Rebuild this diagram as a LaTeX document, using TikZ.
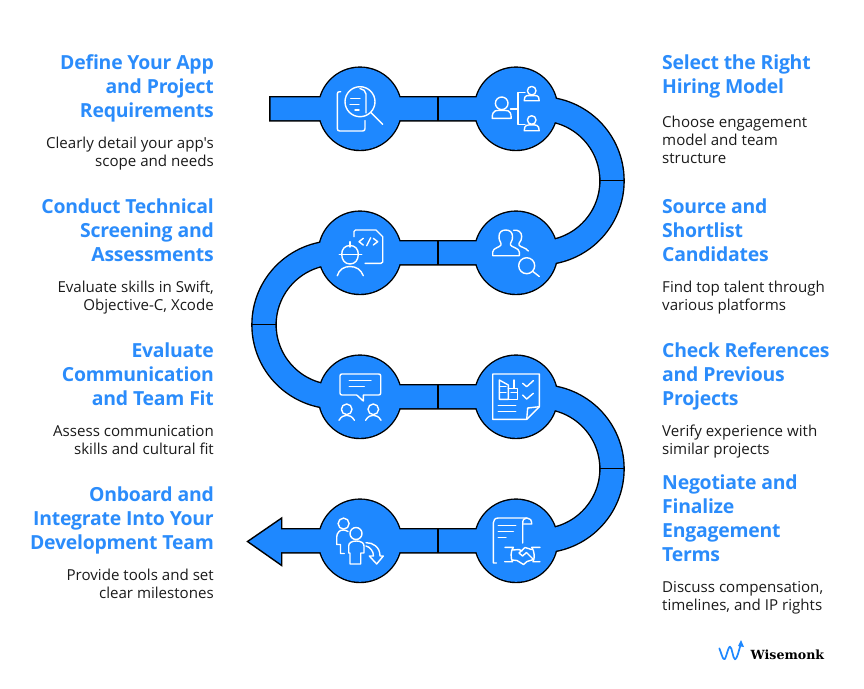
\documentclass[tikz,border=0pt]{standalone}
\usepackage{fontspec}
\setmainfont{Open Sans}
\newfontfamily\logofont{DejaVu Serif}
\newfontfamily\ttlfont[LetterSpace=-1.2]{Open Sans}
\newfontfamily\bdyfont{Open Sans}
\definecolor{wmblue}{HTML}{1E88FF}
\definecolor{wmtitle}{HTML}{2B8CFB}
\definecolor{wmtext}{HTML}{1A1A1A}
\newcommand{\RibbonPath}[2]{(#1,108.8) -- (540,108.8) arc[start angle=-90,end angle=90,radius=72] -- (336,252.8) arc[start angle=-90,end angle=-270,radius=72] -- (540,396.8) arc[start angle=-90,end angle=90,radius=72] -- (#2,540.8)}
\newcommand{\BlockL}[5]{%
 \node[ttl,anchor=north east,align=right] (#1t) at (214,#2-16) {\rule{0pt}{16pt}#3};
 \node[bdy,anchor=north east,align=right] (#1b) at (214,#4-12) {\rule{0pt}{12pt}#5};}
\newcommand{\BlockR}[5]{%
 \node[ttl,anchor=north west,align=left] (#1t) at (662,#2-16) {\rule{0pt}{16pt}#3};
 \node[bdy,anchor=north west,align=left] (#1b) at (662,#4-12) {\rule{0pt}{12pt}#5};}
\newcommand{\Bust}[5]{% cx, head cy, head r, base y, half width
 \draw[ico] (#1,#2) circle[radius=#3];
 \draw[ico] (#1-#5,#4) -- (#1+#5,#4) .. controls (#1+#5,#4-#3*1.5) and (#1+#5*.5,#2+#3*1.15) .. (#1,#2+#3*1.15) .. controls (#1-#5*.5,#2+#3*1.15) and (#1-#5,#4-#3*1.5) .. cycle;}
\newcommand{\Shoulder}[3]{% cx, head cy, bottom y
 \draw[ico] (#1,#2) circle[radius=5.3];
 \draw[ico] (#1-7.7,#3) .. controls (#1-5.5,#3-4) and (#1-2.5,#3-5) .. (#1,#3-5) .. controls (#1+2.5,#3-5) and (#1+5.5,#3-4) .. (#1+7.7,#3);}
\tikzset{
 ttl/.style={inner sep=0pt,text=wmtitle,font=\ttlfont\fontsize{19.4}{24}\selectfont\bfseries},
 bdy/.style={inner sep=0pt,text=wmtext,font=\bdyfont\fontsize{15.1}{18}\selectfont},
 ico/.style={draw=white,line width=1.4pt,line cap=round,line join=round},
 blackdisc/.style={circle,fill=black,minimum size=84.8pt,inner sep=0pt},
 bluedisc/.style={circle,fill=wmblue,minimum size=82pt,inner sep=0pt},
 seam/.style={draw=black,line width=1.3pt},
}
\begin{document}
\begin{tikzpicture}[x=1pt,y=-1pt]
\useasboundingbox (0,0) rectangle (864,688);
% black underlay
\draw[black,line width=25.6pt] \RibbonPath{269.2}{281.7};
\foreach \n/\x/\y in {a/360/108.8,b/516/108.8,c/360/252.8,d/516/252.8,e/360/396.8,f/516/396.8,g/360/540.8,h/516/540.8}
  \node[blackdisc] (k\n) at (\x,\y) {};
\draw[black,fill=wmblue,line width=1.4pt,line join=miter] (247.5,541.5) -- (281.7,518) -- (281.7,565.5) -- cycle;
% blue body
\draw[wmblue,line width=22.8pt] \RibbonPath{270.6}{279};
\foreach \n/\x/\y in {a/360/108.8,b/516/108.8,c/360/252.8,d/516/252.8,e/360/396.8,f/516/396.8,g/360/540.8,h/516/540.8}
  \node[bluedisc] (c\n) at (\x,\y) {};
% seams
\foreach \y in {108.8,252.8,396.8,540.8}
  \draw[seam] (438,\y-12) -- (438,\y+12);
\draw[seam] (600,180.8) -- (624,180.8);
\draw[seam] (252,324.8) -- (276,324.8);
\draw[seam] (600,468.8) -- (624,468.8);

% icon 1
\draw[ico] (340.7,91.7) -- (339.5,91.7) .. controls (338,91.7) and (337.3,92.5) .. (337.3,94) -- (337.3,128.5) .. controls (337.3,130.3) and (338,131) .. (339.8,131) -- (362.5,131) .. controls (364.3,131) and (365,130.3) .. (365,128.5) -- (365,120.5);
\draw[ico] (360,101.7) circle[radius=15];
\draw[ico] (371,112.7) -- (382.7,124.3);
\draw[ico] (360,88.5) .. controls (363,89) and (366,91) .. (366,94) -- (366,113);
\draw[ico] (350.7,98.3) -- (360,98.3) (350,104.3) -- (359,104.3) (355,110) -- (359,110);
% icon 2
\Bust{501.7}{103.3}{6.3}{118.3}{9.5}
\Bust{531.7}{90.7}{4.3}{100.7}{7.5}
\Bust{531.7}{120}{4.3}{130.7}{7.5}
\draw[ico] (510.5,109) -- (518,109) (525,92.7) -- (518,92.7) -- (518,124.3) -- (525,124.3);
% icon 3
\draw[ico] (354,236.7) -- (354,231.5) .. controls (354,230.5) and (354.5,230) .. (355.5,230) -- (376,230) -- (382.7,236.7) -- (382.7,262) .. controls (382.7,263) and (382,263.3) .. (381,263.3) -- (365,263.3);
\draw[ico] (363.3,238.3) -- (359,241.7) -- (363.3,245) (370.7,237.7) -- (366.7,245.7) (373.3,238.3) -- (377.7,241.7) -- (373.3,245);
\draw[ico] (339.3,254.3) -- (361.7,254.3);
\draw[ico] (350,241.7) -- (350,247);
\draw[ico] (341.7,254.3) .. controls (341.7,249) and (345,245.5) .. (350,245.5) .. controls (355,245.5) and (358.3,249) .. (358.3,254.3) .. controls (358.3,260) and (355,264) .. (350,264) .. controls (345,264) and (341.7,260) .. (341.7,254.3);
\draw[ico] (337.3,275.7) .. controls (339,269.5) and (344,266.5) .. (350,266.5) .. controls (356,266.5) and (361,269.5) .. (363.3,275.7);
% icon 4
\draw[ico] (492.7,255.7) -- (519.3,255.7) -- (519.3,252) .. controls (519.3,248) and (511,247) .. (510.5,245) -- (510.5,243.5) .. controls (512.5,241) and (512.5,237.5) .. (512.5,236.5) .. controls (512.5,232) and (509.5,230) .. (505.7,230) .. controls (502,230) and (499,232) .. (499,236.5) .. controls (499,237.5) and (499,241) .. (501,243.5) -- (501,245) .. controls (500.5,247) and (492.7,248) .. (492.7,252) -- cycle;
\draw[ico] (513.5,230.2) .. controls (518,229.5) and (521.7,232) .. (521.7,236.5) .. controls (521.7,238.5) and (521,241.5) .. (519,243.5) -- (519,245) .. controls (519.5,247) and (526,247.5) .. (528.3,251);
\draw[ico] (526.7,265.7) circle[radius=8];
\draw[ico] (532.5,271.2) -- (539.3,276.5);
% icon 5
\draw[ico] (356.7,395) -- (342,395) .. controls (340.7,395) and (340,394.3) .. (340,393) -- (340,376) .. controls (340,374.7) and (340.7,374) .. (342,374) -- (378.7,374) .. controls (380,374) and (380.7,374.7) .. (380.7,376) -- (380.7,393) .. controls (380.7,394.3) and (380,395) .. (378.7,395) -- (363.3,395) -- (363.3,401) -- cycle;
\draw[ico] (349.3,380.7) -- (371,380.7) (349.3,386.7) -- (364.3,386.7);
\Shoulder{346.7}{409.3}{420.3}
\Shoulder{373.3}{409.3}{420.3}
% icon 6
\draw[ico] (526.7,419.3) -- (492.7,419.3) -- (492.7,374) -- (539.3,374) -- (539.3,406.7) -- cycle;
\draw[ico] (526.7,419.3) -- (527.7,408) -- (539.3,406.7);
\draw[ico] (498.3,405.7) -- (515.7,405.7) (498.3,411.7) -- (515.7,411.7);
\draw[ico] (522.7,383.3) -- (526.7,386.7) -- (533.3,380.7) (522.7,395) -- (526.7,399) -- (533.3,393.3);
\draw[ico] (499.3,380) -- (508.3,385) -- (508.3,399.3) -- (499.3,399.3) -- cycle;
\draw[ico] (508.3,388.3) -- (517.3,388.3) -- (517.3,399.3) -- (508.3,399.3);
\draw[ico] (514,380) -- (514,388.3) (499.5,386.7) -- (506,386.7) (499.5,392.7) -- (506,392.7) (511,392.7) -- (517,392.7);
% icon 7
\draw[ico] (343.6,523.6) circle[radius=5.5];
\draw[ico] (348,531.5) .. controls (345,529.5) and (341,529.5) .. (339,531.5) .. controls (337.5,533) and (336.7,535) .. (336.7,537) -- (336.7,544.5) -- (340.5,544.5) -- (340.5,553.5) -- (344.3,553.5);
\draw[ico] (356,533.5) circle[radius=6];
\draw[ico] (350,564) -- (350,553) -- (348.7,553) -- (348.7,546) .. controls (348.7,543) and (351.5,541) .. (356.3,541) .. controls (361,541) and (364,543) .. (364,546) -- (364,553) -- (360.7,553) -- (360.7,564) -- cycle;
\draw[ico] (366,542.7) .. controls (373,542.5) and (380,547) .. (380,556) -- (383.3,556) -- (376.7,564) -- (369.3,556) -- (373.5,556) .. controls (373.5,551) and (370,547) .. (366,546);
% icon 8
\draw[ico] (496.5,563) -- (493.3,563) -- (493.3,523) .. controls (493.3,520) and (495,518) .. (498.3,518) -- (527,518) .. controls (530,518) and (531.7,520) .. (531.7,524) -- (522.7,524);
\draw[ico] (526.5,518) .. controls (523.5,518) and (522.7,520) .. (522.7,524) -- (522.7,543);
\draw[ico] (498.3,525.7) -- (515.7,525.7) (498.3,531.3) -- (513.3,531.3) (498.3,537.3) -- (506,537.3);
\draw[ico] (505,547.3) -- (513.3,547.3) .. controls (510.5,551) and (510.5,558) .. (512.5,561.7) -- (504.7,561.7);
\draw[ico] (531.7,547.3) -- (540,547.3) (540,561.7) -- (533,561.7) .. controls (535,558) and (534.5,551) .. (531.7,547.3);
\draw[ico] (512.7,550) -- (519,549.5) -- (522,551) (519,553) -- (525,547.5) -- (531.5,549.5) (519,553) -- (522.5,556) -- (526.5,552.5) -- (533.5,559.5) -- (527,561.5) -- (523.5,564.5) -- (517,560.5) -- (512.3,560);
% texts
\BlockL{l1}{69}{Define Your App\\and Project\\Requirements}{148}{Clearly detail your app's\\scope and needs}
\BlockL{l2}{213}{Conduct Technical\\Screening and\\Assessments}{292}{Evaluate skills in Swift,\\Objective-C, Xcode}
\BlockL{l3}{357}{Evaluate\\Communication\\and Team Fit}{436}{Assess communication\\skills and cultural fit}
\BlockL{l4}{501}{Onboard and\\Integrate Into Your\\Development Team}{580}{Provide tools and set\\clear milestones}
\BlockR{r1}{69}{Select the Right\\Hiring Model}{127}{Choose engagement\\model and team\\structure}
\BlockR{r2}{213}{Source and\\Shortlist\\Candidates}{292}{Find top talent through\\various platforms}
\BlockR{r3}{357}{Check References\\and Previous\\Projects}{436}{Verify experience with\\similar projects}
\BlockR{r4}{489}{Negotiate and\\Finalize\\Engagement\\Terms}{592}{Discuss compensation,\\timelines, and IP rights}
% logo
\draw[wmblue,line width=1.7pt,line join=round,line cap=round] (719.3,648.3) .. controls (721,652) and (722.5,659.3) .. (724.3,659.3) .. controls (726,659.3) and (728,646.7) .. (730,646.7) .. controls (732,646.7) and (733,659.3) .. (735,659.3) .. controls (737,659.3) and (739,650) .. (740.5,645);
\fill[wmblue] (741,640) -- (744,647) -- (738,646) -- cycle;
\node[anchor=base west,inner sep=0pt,text=black,font=\logofont\fontsize{12.6}{14}\selectfont\bfseries] (logo) at (750.5,659) {Wisemonk};
\end{tikzpicture}
\end{document}
